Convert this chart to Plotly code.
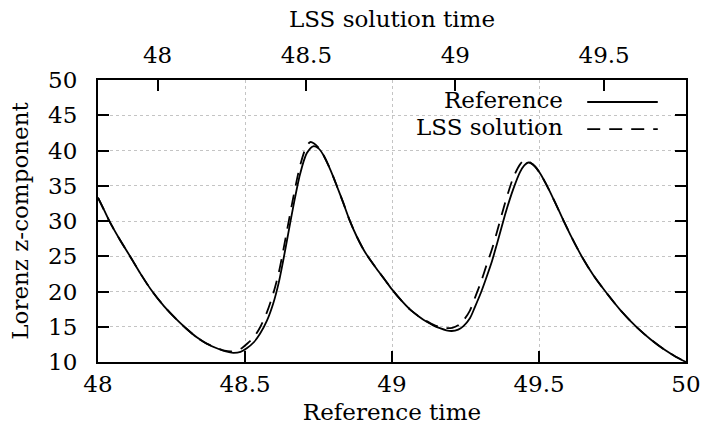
import plotly.graph_objects as go

# Reference solution (solid)
ref_time = [48.000, 48.020, 48.041, 48.075, 48.109, 48.145, 48.183, 48.225, 48.268, 48.300,
            48.336, 48.370, 48.404, 48.435, 48.460, 48.485, 48.506, 48.530, 48.551, 48.575,
            48.596, 48.615, 48.630, 48.647, 48.664, 48.687, 48.710, 48.732, 48.750, 48.766,
            48.785, 48.800, 48.812, 48.834, 48.855, 48.880, 48.908, 48.948, 48.975, 49.000,
            49.030, 49.060, 49.090, 49.118, 49.140, 49.163, 49.185, 49.203, 49.225, 49.243,
            49.265, 49.283, 49.303, 49.322, 49.340, 49.356, 49.384, 49.400, 49.413, 49.435,
            49.450, 49.464, 49.485, 49.503, 49.532, 49.555, 49.583, 49.612, 49.645, 49.685,
            49.724, 49.776, 49.833, 49.880, 49.930, 49.965, 50.000]
ref_z = [33.3, 31.6, 29.8, 27.3, 25.0, 22.5, 20.1, 17.9, 16.0, 14.75,
         13.5, 12.6, 11.95, 11.5, 11.3, 11.45, 11.95, 12.8, 14.0, 15.9,
         18.3, 21.3, 24.4, 28.2, 32.0, 36.6, 39.6, 40.6, 40.3, 39.4,
         37.8, 36.3, 35.0, 32.6, 30.2, 27.8, 25.6, 23.2, 21.7, 20.3,
         18.8, 17.5, 16.5, 15.7, 15.2, 14.8, 14.5, 14.4, 14.6, 15.1,
         16.2, 17.9, 19.9, 22.1, 24.3, 26.6, 30.8, 33.0, 34.6, 36.9,
         37.9, 38.3, 37.8, 36.8, 34.6, 32.6, 30.1, 27.6, 25.0, 22.3,
         20.1, 17.4, 14.9, 13.2, 11.65, 10.75, 10.0]

# LSS solution (dashed)
lss_time = [48.000, 48.020, 48.041, 48.075, 48.109, 48.145, 48.183, 48.225, 48.268, 48.300,
            48.336, 48.370, 48.404, 48.430, 48.450, 48.470, 48.490, 48.510, 48.530, 48.551,
            48.575, 48.596, 48.615, 48.630, 48.647, 48.664, 48.687, 48.708, 48.722, 48.735,
            48.750, 48.766, 48.785, 48.800, 48.812, 48.834, 48.855, 48.880, 48.908, 48.948,
            48.975, 49.000, 49.030, 49.060, 49.090, 49.118, 49.140, 49.163, 49.185, 49.205,
            49.225, 49.243, 49.265, 49.283, 49.303, 49.322, 49.340, 49.356, 49.378, 49.395,
            49.413, 49.435, 49.452, 49.470, 49.485, 49.503, 49.532, 49.555, 49.583, 49.612,
            49.645, 49.685, 49.724, 49.776, 49.833, 49.880, 49.930, 49.965, 50.000]
lss_z = [33.3, 31.6, 29.8, 27.3, 25.0, 22.5, 20.1, 17.9, 16.0, 14.75,
         13.5, 12.6, 12.0, 11.6, 11.5, 11.6, 12.0, 12.7, 13.5, 14.9,
         17.1, 19.7, 22.7, 25.8, 29.6, 33.3, 37.8, 40.5, 41.2, 41.0,
         40.4, 39.4, 37.8, 36.3, 35.0, 32.6, 30.2, 27.8, 25.6, 23.2,
         21.7, 20.3, 18.8, 17.5, 16.5, 15.8, 15.3, 14.95, 14.8, 14.85,
         15.2, 15.9, 17.3, 19.2, 21.4, 23.8, 26.0, 28.3, 31.6, 34.0,
         36.2, 38.0, 38.7, 38.3, 37.8, 36.8, 34.6, 32.6, 30.1, 27.6,
         25.0, 22.3, 20.1, 17.4, 14.9, 13.2, 11.65, 10.75, 10.0]

x_ticks = [48, 48.5, 49, 49.5, 50]
x_tick_labels = ["48", "48.5", "49", "49.5", "50"]
x2_range = [47.8, 49.775]
x2_ticks = [48, 48.5, 49, 49.5]
x2_tick_labels = ["48", "48.5", "49", "49.5"]
y_ticks = [10, 15, 20, 25, 30, 35, 40, 45, 50]
series_names = ["Reference", "LSS solution"]

FONT = "DejaVu Serif"
FS = 23

fig = go.Figure()
fig.add_trace(go.Scatter(x=ref_time, y=ref_z, mode="lines", name=series_names[0],
                         line=dict(color="black", width=1.8, shape="spline", smoothing=0.8),
                         showlegend=False))
fig.add_trace(go.Scatter(x=lss_time, y=lss_z, mode="lines", name=series_names[1],
                         line=dict(color="black", width=1.8, dash="13px,9px", shape="spline", smoothing=0.8),
                         showlegend=False))
# empty trace so the top (LSS solution time) axis gets drawn
fig.add_trace(go.Scatter(x=[], y=[], xaxis="x2", yaxis="y", showlegend=False, hoverinfo="skip"))

axis_common = dict(
    showline=True, linecolor="black", linewidth=2,
    ticks="inside", ticklen=11, tickwidth=2, tickcolor="black",
    tickfont=dict(family=FONT, size=FS, color="black"),
    zeroline=False, automargin=False,
)

fig.update_layout(
    width=701, height=432,
    margin=dict(l=98, r=15, t=80, b=70),
    plot_bgcolor="white", paper_bgcolor="white",
    font=dict(family=FONT, size=FS, color="black"),
    showlegend=False,
    xaxis=dict(
        range=[48, 50], tickvals=x_ticks, ticktext=x_tick_labels,
        showgrid=True, gridcolor="#c4c4c4", griddash="dot", gridwidth=1,
        title=dict(text="Reference time", font=dict(family=FONT, size=FS), standoff=8),
        ticklabelstandoff=0,
        **axis_common,
    ),
    xaxis2=dict(
        range=x2_range, tickvals=x2_ticks, ticktext=x2_tick_labels,
        overlaying="x", side="top", anchor="y",
        showgrid=False,
        title=dict(text="LSS solution time", font=dict(family=FONT, size=FS), standoff=8),
        ticklabelstandoff=6,
        **axis_common,
    ),
    yaxis=dict(
        range=[10, 50], tickvals=y_ticks, mirror="ticks",
        showgrid=True, gridcolor="#c4c4c4", griddash="dot", gridwidth=1,
        title=dict(text="Lorenz z-component", font=dict(family=FONT, size=FS), standoff=13),
        ticklabelstandoff=14,
        **axis_common,
    ),
)

# gnuplot-style key: opaque box, text on the left, line sample on the right
fig.add_shape(type="rect", xref="paper", yref="paper", x0=0.522, x1=0.976, y0=0.787, y1=0.982,
              fillcolor="white", line=dict(width=0), layer="between")
fig.add_shape(type="line", xref="paper", yref="paper", x0=0.832, x1=0.952, y0=0.922, y1=0.922,
              line=dict(color="black", width=1.8))
fig.add_shape(type="line", xref="paper", yref="paper", x0=0.832, x1=0.952, y0=0.826, y1=0.826,
              line=dict(color="black", width=1.8, dash="13px,9px"))
fig.add_annotation(text=series_names[0], xref="paper", yref="paper", x=0.794, y=0.929,
                   xanchor="right", yanchor="middle", showarrow=False,
                   font=dict(family=FONT, size=FS, color="black"))
fig.add_annotation(text=series_names[1], xref="paper", yref="paper", x=0.794, y=0.833,
                   xanchor="right", yanchor="middle", showarrow=False,
                   font=dict(family=FONT, size=FS, color="black"))

fig.write_html("out.html")
